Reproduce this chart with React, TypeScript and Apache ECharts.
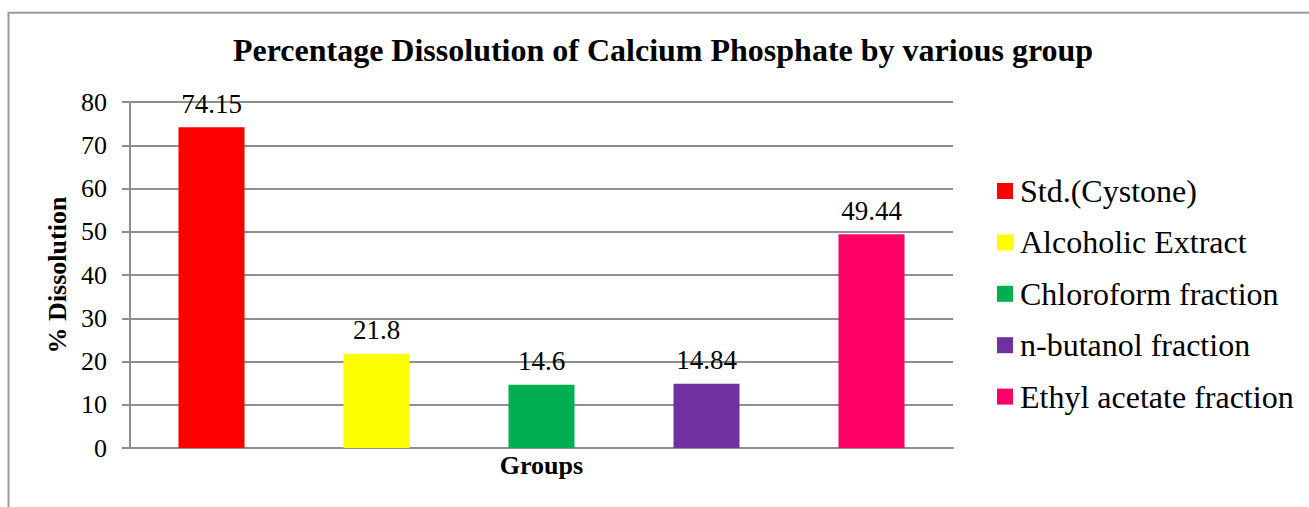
import React, { useEffect, useRef } from "react";
import * as echarts from "echarts";

const seriesNames = [
  "Std.(Cystone)",
  "Alcoholic Extract",
  "Chloroform fraction",
  "n-butanol fraction",
  "Ethyl acetate fraction",
];
const seriesValues = [74.15, 21.8, 14.6, 14.84, 49.44];
const seriesColors = ["#FF0000", "#FFFF00", "#00B050", "#7030A0", "#FF0066"];
const categories = [""];
const yTicks = { min: 0, max: 80, interval: 10 };

const FONT = "Liberation Serif";
const GRAY = "#8e8e8e";

export default function App() {
  const ref = useRef<HTMLDivElement>(null);
  useEffect(() => {
    if (!ref.current) return;
    const chart = echarts.init(ref.current, null, { renderer: "svg" });
    chart.setOption({
      animation: false,
      backgroundColor: "#ffffff",
      textStyle: { fontFamily: FONT },
      title: {
        text: "Percentage Dissolution of Calcium Phosphate by various group",
        left: 663,
        textAlign: "center",
        top: 34,
        padding: 0,
        textStyle: {
          fontFamily: FONT,
          fontSize: 32,
          fontWeight: "bold",
          color: "#000",
        },
      },
      graphic: [
        {
          type: "rect",
          shape: { x: 8.5, y: 12.7, width: 1500, height: 800 },
          style: { fill: "none", stroke: "#9a9a9a", lineWidth: 2 },
          silent: true,
        },
      ],
      legend: {
        orient: "vertical",
        left: 997,
        top: 175,
        padding: 0,
        itemWidth: 16,
        itemHeight: 16,
        itemGap: 19.4,
        icon: "rect",
        textStyle: {
          fontFamily: FONT,
          fontSize: 32,
          color: "#000",
          lineHeight: 30,
          padding: [0, 0, 0, 2],
        },
        data: seriesNames,
      },
      grid: { left: 130, right: 356, top: 102, bottom: 59, containLabel: false },
      xAxis: {
        type: "category",
        data: categories,
        name: "Groups",
        nameLocation: "middle",
        nameGap: 4,
        nameTextStyle: {
          fontFamily: FONT,
          fontSize: 26,
          fontWeight: "bold",
          color: "#000",
          verticalAlign: "top",
        },
        axisLine: { show: true, lineStyle: { color: GRAY, width: 2 } },
        axisTick: { show: false },
        axisLabel: { show: false },
      },
      yAxis: {
        type: "value",
        min: yTicks.min,
        max: yTicks.max,
        interval: yTicks.interval,
        name: "% Dissolution",
        nameLocation: "middle",
        nameGap: 59,
        nameRotate: 90,
        nameTextStyle: {
          fontFamily: FONT,
          fontSize: 26,
          fontWeight: "bold",
          color: "#000",
        },
        axisLine: { show: true, lineStyle: { color: GRAY, width: 2 } },
        axisTick: { show: true, length: 8, lineStyle: { color: GRAY, width: 2 } },
        axisLabel: {
          margin: 23,
          fontFamily: FONT,
          fontSize: 26,
          color: "#000",
        },
        splitLine: { show: true, lineStyle: { color: GRAY, width: 2 } },
      },
      series: seriesNames.map((name, i) => ({
        type: "bar",
        name,
        data: [seriesValues[i]],
        barWidth: 66,
        barGap: "150%",
        itemStyle: { color: seriesColors[i] },
        label: {
          show: true,
          position: "top",
          distance: 10,
          fontFamily: FONT,
          fontSize: 27,
          color: "#000",
        },
      })),
    });
    return () => chart.dispose();
  }, []);
  return (
    <div
      ref={ref}
      style={{ position: "fixed", left: 0, top: 0, width: 1309, height: 507 }}
    />
  );
}
